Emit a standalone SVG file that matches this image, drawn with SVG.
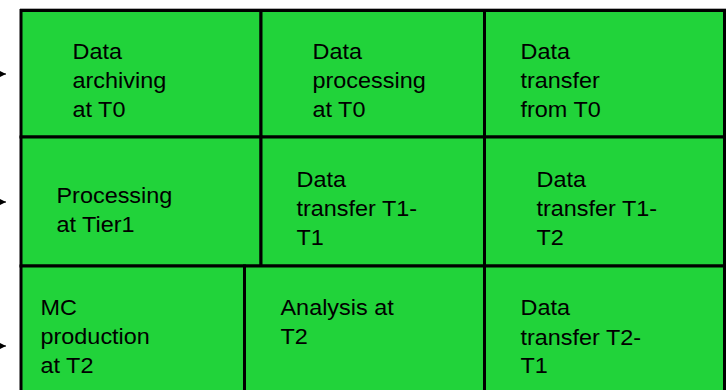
<svg xmlns="http://www.w3.org/2000/svg" width="727" height="390" viewBox="0 0 727 390">
  <style>
    .cell { fill: #21d33a; stroke: #000; stroke-width: 3; }
    .lbl { font-family: "Liberation Sans", Arial, sans-serif; font-size: 21.5px; fill: #000; }
    .edge { stroke: #000; stroke-width: 1; fill: none; }
  </style>
  <defs>
    <marker id="head" viewBox="0 0 6 6" refX="6" refY="3" markerWidth="6" markerHeight="6" markerUnits="userSpaceOnUse" orient="auto">
      <path d="M0,0 L6,3 L0,6 Z" fill="#000"/>
    </marker>
  </defs>

  <rect width="727" height="390" fill="#fff"/>
  <line x1="20" y1="8.5" x2="726" y2="8.5" stroke="#b0b0b0" stroke-width="1"/>

  <!-- incoming arrows on the left edge -->
  <g id="connectors">
    <line class="edge" x1="-10" y1="74" x2="6" y2="74" marker-end="url(#head)"/>
    <line class="edge" x1="-10" y1="202" x2="6" y2="202" marker-end="url(#head)"/>
    <line class="edge" x1="-10" y1="346" x2="6" y2="346" marker-end="url(#head)"/>
  </g>

  <!-- row 1 -->
  <g id="archiving-t0">
    <rect class="cell" x="21" y="10.5" width="240" height="126.5"/>
    <text class="lbl" transform="translate(72.5,58.5) scale(1.09,1)">Data</text>
    <text class="lbl" transform="translate(72.5,87.7) scale(1.09,1)">archiving</text>
    <text class="lbl" transform="translate(72.5,116.7) scale(1.09,1)">at T0</text>
  </g>
  <g id="processing-t0">
    <rect class="cell" x="261" y="10.5" width="223.5" height="126.5"/>
    <text class="lbl" transform="translate(312.5,58.5) scale(1.09,1)">Data</text>
    <text class="lbl" transform="translate(312.5,87.7) scale(1.09,1)">processing</text>
    <text class="lbl" transform="translate(312.5,116.7) scale(1.09,1)">at T0</text>
  </g>
  <g id="transfer-from-t0">
    <rect class="cell" x="484.5" y="10.5" width="240" height="126.5"/>
    <text class="lbl" transform="translate(520.5,58.5) scale(1.09,1)">Data</text>
    <text class="lbl" transform="translate(520.5,87.7) scale(1.09,1)">transfer</text>
    <text class="lbl" transform="translate(520.5,116.7) scale(1.09,1)">from T0</text>
  </g>

  <!-- row 2 -->
  <g id="processing-tier1">
    <rect class="cell" x="21" y="137" width="240" height="129"/>
    <text class="lbl" transform="translate(56.5,203.3) scale(1.09,1)">Processing</text>
    <text class="lbl" transform="translate(56.5,231.7) scale(1.09,1)">at Tier1</text>
  </g>
  <g id="transfer-t1-t1">
    <rect class="cell" x="261" y="137" width="223.5" height="129"/>
    <text class="lbl" transform="translate(296.5,186.7) scale(1.09,1)">Data</text>
    <text class="lbl" transform="translate(296.5,216) scale(1.09,1)">transfer T1-</text>
    <text class="lbl" transform="translate(296.5,245) scale(1.09,1)">T1</text>
  </g>
  <g id="transfer-t1-t2">
    <rect class="cell" x="484.5" y="137" width="240" height="129"/>
    <text class="lbl" transform="translate(536.5,186.7) scale(1.09,1)">Data</text>
    <text class="lbl" transform="translate(536.5,216) scale(1.09,1)">transfer T1-</text>
    <text class="lbl" transform="translate(536.5,245) scale(1.09,1)">T2</text>
  </g>

  <!-- row 3 -->
  <g id="mc-production-t2">
    <rect class="cell" x="21" y="266" width="223.5" height="140"/>
    <text class="lbl" transform="translate(40.5,315) scale(1.09,1)">MC</text>
    <text class="lbl" transform="translate(40.5,343.5) scale(1.09,1)">production</text>
    <text class="lbl" transform="translate(40.5,372.5) scale(1.09,1)">at T2</text>
  </g>
  <g id="analysis-t2">
    <rect class="cell" x="244.5" y="266" width="240" height="140"/>
    <text class="lbl" transform="translate(280.5,315) scale(1.09,1)">Analysis at</text>
    <text class="lbl" transform="translate(280.5,344) scale(1.09,1)">T2</text>
  </g>
  <g id="transfer-t2-t1">
    <rect class="cell" x="484.5" y="266" width="240" height="140"/>
    <text class="lbl" transform="translate(520.5,315) scale(1.09,1)">Data</text>
    <text class="lbl" transform="translate(520.5,344.5) scale(1.09,1)">transfer T2-</text>
    <text class="lbl" transform="translate(520.5,373.3) scale(1.09,1)">T1</text>
  </g>
</svg>
